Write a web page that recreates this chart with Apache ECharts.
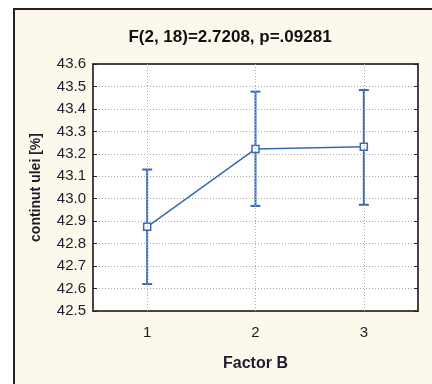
<!DOCTYPE html>
<html>
<head>
<meta charset="utf-8">
<script src="https://cdn.jsdelivr.net/npm/echarts@6/dist/echarts.min.js"></script>
<style>
  html, body { margin: 0; padding: 0; background: #fff; }
  #chart { width: 432px; height: 384px; }
</style>
</head>
<body>
<div id="chart"></div>
<script>
var categories = ['1', '2', '3'];
var means = [42.875, 43.222, 43.232];
var upper = [43.13, 43.477, 43.484];
var lower = [42.62, 42.968, 42.973];
var yTicks = [42.5, 43.6, 0.1]; // min, max, step

var blue = '#3a68b4';
var chart = echarts.init(document.getElementById('chart'));

var errData = categories.map(function (c, i) { return [i, lower[i], upper[i]]; });

chart.setOption({
  animation: false,
  backgroundColor: '#fff',
  graphic: [{
    type: 'rect',
    shape: { x: 14, y: 9, width: 440, height: 400 },
    style: { fill: '#fdf8ec', stroke: '#222', lineWidth: 2 },
    z: -10
  }],
  title: {
    text: 'F(2, 18)=2.7208, p=.09281',
    left: 225,
    top: 24,
    textAlign: 'center',
    textStyle: { fontFamily: 'Liberation Sans', fontSize: 17, fontWeight: 'bold', color: '#111' }
  },
  grid: {
    left: 93, top: 64, right: 14, bottom: 73,
    show: true, backgroundColor: '#fff', borderColor: '#444', borderWidth: 2
  },
  xAxis: [{
    type: 'category',
    data: categories,
    position: 'bottom',
    axisLine: { lineStyle: { color: '#444', width: 2 } },
    axisTick: { inside: true, alignWithLabel: true, length: 4, lineStyle: { color: '#222' } },
    axisLabel: { fontFamily: 'Liberation Sans', fontSize: 15, color: '#1c1c2c', margin: 14 },
    name: 'Factor B',
    nameLocation: 'middle',
    nameGap: 45,
    nameTextStyle: { fontFamily: 'Liberation Sans', fontSize: 16, fontWeight: 'bold', color: '#1c1c2c' },
    splitLine: { show: false }
  }, {
    type: 'category',
    data: categories,
    position: 'top',
    axisLine: { lineStyle: { color: '#444', width: 2 } },
    axisTick: { inside: true, alignWithLabel: true, length: 4, lineStyle: { color: '#222' } },
    axisLabel: { show: false },
    splitLine: { show: false }
  }],
  yAxis: [{
    type: 'value',
    min: yTicks[0], max: yTicks[1], interval: yTicks[2],
    axisLine: { show: true, lineStyle: { color: '#444', width: 2 } },
    axisTick: { show: true, inside: true, length: 4, lineStyle: { color: '#222' } },
    axisLabel: {
      fontFamily: 'Liberation Sans', fontSize: 15, color: '#1c1c2c', margin: 7,
      formatter: function (v) { return v.toFixed(1); }
    },
    splitLine: { show: true, lineStyle: { color: '#aaa', type: [1, 2], width: 1 } },
    name: 'continut ulei [%]',
    nameLocation: 'middle',
    nameGap: 50,
    nameTextStyle: { fontFamily: 'Liberation Sans', fontSize: 14, fontWeight: 'bold', color: '#1c1c2c' }
  }, {
    type: 'value',
    position: 'right',
    min: yTicks[0], max: yTicks[1], interval: yTicks[2],
    axisLine: { show: true, lineStyle: { color: '#444', width: 2 } },
    axisTick: { show: true, inside: true, length: 4, lineStyle: { color: '#222' } },
    axisLabel: { show: false },
    splitLine: { show: false }
  }],
  series: [{
    type: 'line',
    data: [],
    z: 1,
    markLine: {
      silent: true,
      symbol: 'none',
      label: { show: false },
      lineStyle: { color: '#aaa', type: [1, 2], width: 1 },
      data: categories.map(function (c) { return { xAxis: c }; })
    }
  }, {
    type: 'custom',
    z: 3,
    data: errData,
    renderItem: function (params, api) {
      var top = api.coord([api.value(0), api.value(2)]);
      var bot = api.coord([api.value(0), api.value(1)]);
      var w = 5;
      var st = { stroke: blue, lineWidth: 2 };
      return {
        type: 'group',
        children: [
          { type: 'line', shape: { x1: top[0], y1: top[1], x2: bot[0], y2: bot[1] }, style: st },
          { type: 'line', shape: { x1: top[0] - w, y1: top[1], x2: top[0] + w, y2: top[1] }, style: st },
          { type: 'line', shape: { x1: bot[0] - w, y1: bot[1], x2: bot[0] + w, y2: bot[1] }, style: st }
        ]
      };
    }
  }, {
    type: 'line',
    z: 4,
    data: means,
    symbol: 'rect',
    symbolSize: 7,
    lineStyle: { color: blue, width: 1.5 },
    itemStyle: { color: '#fff', borderColor: blue, borderWidth: 1.5 }
  }]
});
</script>
</body>
</html>
